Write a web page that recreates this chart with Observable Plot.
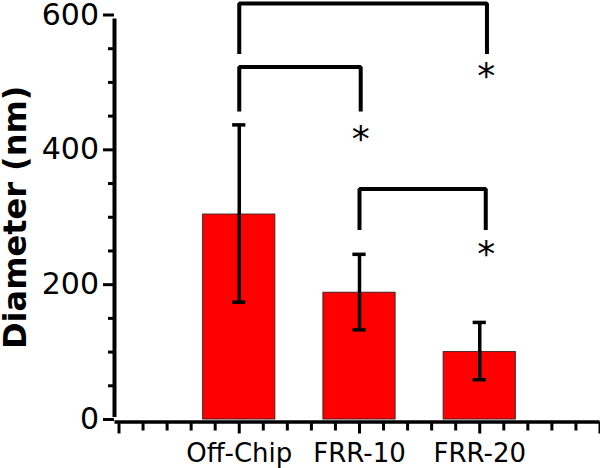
<!DOCTYPE html>
<html>
<head>
<meta charset="utf-8">
<script src="https://cdn.jsdelivr.net/npm/d3@7"></script>
<script src="https://cdn.jsdelivr.net/npm/@observablehq/plot@0.6"></script>
<style>
  html, body { margin: 0; padding: 0; background: #fff; }
</style>
</head>
<body>
<div id="chart"></div>
<script>
// Categories and values
const categories = ["Off-Chip", "FRR-10", "FRR-20"];
const positions = [1, 2, 3];
const means = [304, 188, 100];
const errLow = [174, 133, 59];
const errHigh = [437, 245, 144];

// Significance brackets (x in category positions, y in nm)
const bracketFrom = [1, 1, 2];
const bracketTo = [3.06, 2.01, 3.05];
const bracketTop = [617, 523, 342];
const bracketFoot = [542, 457, 281];
const starX = [3.055, 2.01, 3.055];
const starY = [518, 424, 253];

// Axis ticks
const yTicks = [0, 200, 400, 600];
const yMinorTicks = [50, 100, 150, 250, 300, 350, 450, 500, 550];
const xMajorTicks = [0, 1, 2, 3, 4];
const xMinorTicks = d3.range(1, 20).filter(i => i % 5 !== 0).map(i => i / 5);

const rows = categories.map((c, i) => ({cat: c, pos: positions[i], mean: means[i], low: errLow[i], high: errHigh[i]}));
const bracketPts = bracketFrom.flatMap((f, i) => [
  {id: i, x: f, y: bracketFoot[i]},
  {id: i, x: f, y: bracketTop[i]},
  {id: i, x: bracketTo[i], y: bracketTop[i]},
  {id: i, x: bracketTo[i], y: bracketFoot[i]}
]);
const stars = starX.map((x, i) => ({x, y: starY[i]}));

const chart = Plot.plot({
  width: 600,
  height: 468,
  marginLeft: 118.5,
  marginRight: 0.5,
  marginTop: 14.5,
  marginBottom: 49,
  x: {domain: [0, 4]},
  y: {domain: [0, 600]},
  style: {fontFamily: "DejaVu Sans", background: "white", overflow: "visible", color: "black"},
  marks: [
    Plot.rectY(rows, {x1: d => d.pos - 0.3, x2: d => d.pos + 0.3, y1: 0, y2: "mean", fill: "#ff0000", stroke: "#4a2020", strokeWidth: 1}),
    Plot.ruleX(rows, {x: "pos", y1: "low", y2: "high", strokeWidth: 3.5}),
    Plot.ruleY(rows, {y: "high", x1: d => d.pos - 0.055, x2: d => d.pos + 0.055, strokeWidth: 3.5}),
    Plot.ruleY(rows, {y: "low", x1: d => d.pos - 0.055, x2: d => d.pos + 0.055, strokeWidth: 3.5}),
    Plot.line(bracketPts, {x: "x", y: "y", z: "id", stroke: "black", strokeWidth: 4, strokeLinejoin: "miter", strokeLinecap: "butt"}),
    Plot.text(stars, {x: "x", y: "y", text: () => "*", fontSize: 36, dy: 6}),
    // Y axis
    Plot.ruleX([0], {y1: 0, y2: 600, dx: -4.5, strokeWidth: 4, insetTop: -2, insetBottom: -4}),
    Plot.axisY({ticks: yTicks, tickSize: 11, tickPadding: 4.5, dx: -4.5, fontSize: 30, strokeWidth: 3, label: null}),
    Plot.axisY({ticks: yMinorTicks, tickSize: 6, dx: -4.5, text: null, strokeWidth: 3, label: null}),
    // X axis
    Plot.ruleY([0], {dy: 2.5, strokeWidth: 3.5, insetLeft: -4}),
    Plot.axisX({ticks: xMajorTicks, tickSize: 12, dy: 2.5, text: null, strokeWidth: 3, label: null}),
    Plot.axisX({ticks: xMinorTicks, tickSize: 9, dy: 2.5, text: null, strokeWidth: 3, label: null}),
    Plot.axisX({ticks: positions, tickFormat: d => categories[positions.indexOf(d)], tickSize: 0, tickPadding: 24, fontSize: 26, label: null}),
    // Y title
    Plot.text(["Diameter (nm)"], {frameAnchor: "left", textAnchor: "middle", rotate: -90, dx: -93, lineAnchor: "bottom", fontSize: 32, fontWeight: "bold", text: d => d})
  ]
});
document.getElementById("chart").appendChild(chart);
</script>
</body>
</html>
